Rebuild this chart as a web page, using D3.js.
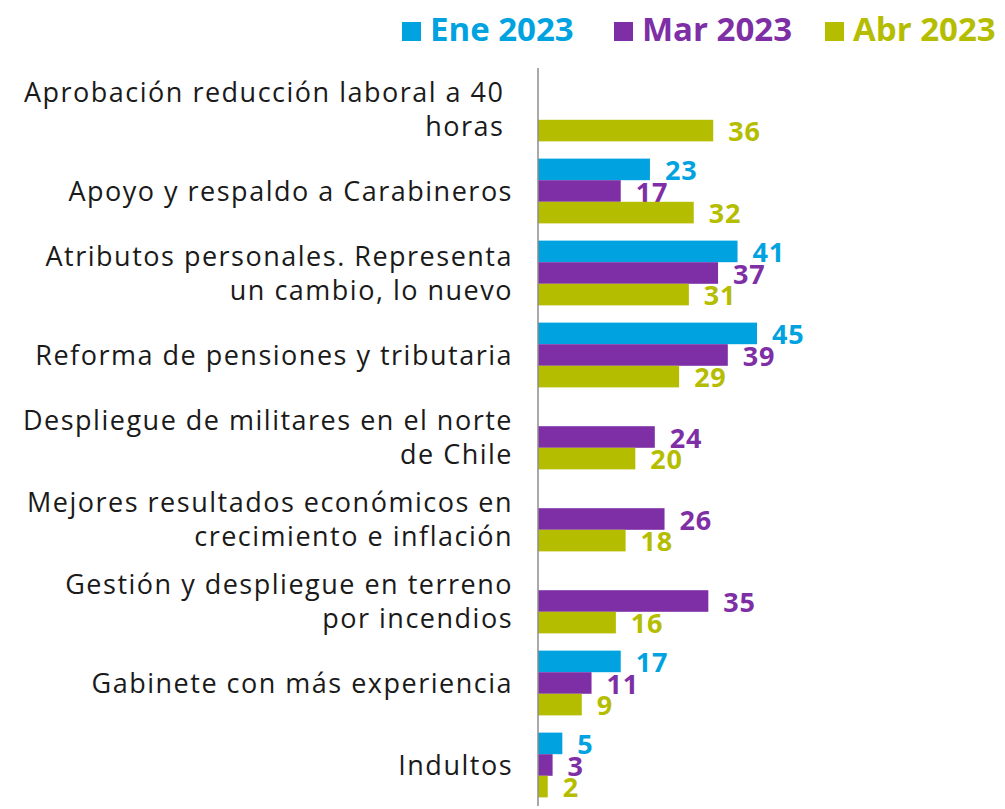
<!DOCTYPE html>
<html>
<head>
<meta charset="utf-8">
<script src="https://d3js.org/d3.v7.min.js"></script>
<style>
  body { margin: 0; background: #fff; }
  text { font-family: "Open Sans", sans-serif; }
</style>
</head>
<body>
<div id="chart"></div>
<script>
// data
var categories = [
  ["Aprobación reducción laboral a 40 ", "horas "],
  ["Apoyo y respaldo a Carabineros"],
  ["Atributos personales. Representa", "un cambio, lo nuevo"],
  ["Reforma de pensiones y tributaria"],
  ["Despliegue de militares en el norte", "de Chile"],
  ["Mejores resultados económicos en", "crecimiento e inflación"],
  ["Gestión y despliegue en terreno", "por incendios"],
  ["Gabinete con más experiencia"],
  ["Indultos"]
];
var seriesNames = ["Ene 2023", "Mar 2023", "Abr 2023"];
var ene = [null, 23, 41, 45, null, null, null, 17, 5];
var mar = [null, 17, 37, 39, 24, 26, 35, 11, 3];
var abr = [36, 32, 31, 29, 20, 18, 16, 9, 2];
var colors = ["#00A3E0", "#7E2FA6", "#B5BD00"];

var width = 1005, height = 809;
var svg = d3.select("#chart").append("svg")
    .attr("width", width)
    .attr("height", height);

var idx = d3.range(categories.length);
var y = d3.scaleBand().domain(idx).range([68, 806]).paddingInner(0.21).paddingOuter(0.105);
var ySub = d3.scaleBand().domain(seriesNames).range([0, y.bandwidth()]);
var x = d3.scaleLinear().domain([0, 45]).range([538, 757]);

var allSeries = [ene, mar, abr];

// bars + value labels
allSeries.forEach(function(vals, s) {
  var g = svg.append("g");
  var pts = idx.filter(function(i) { return vals[i] != null; });
  g.selectAll("rect").data(pts).enter().append("rect")
    .attr("x", x(0))
    .attr("y", function(i) { return y(i) + ySub(seriesNames[s]); })
    .attr("width", function(i) { return x(vals[i]) - x(0); })
    .attr("height", ySub.bandwidth())
    .attr("fill", colors[s]);
  g.selectAll("text").data(pts).enter().append("text")
    .attr("x", function(i) { return x(vals[i]) + 15; })
    .attr("y", function(i) { return y(i) + ySub(seriesNames[s]) + ySub.bandwidth(); })
    .attr("fill", colors[s])
    .attr("font-size", 27)
    .attr("font-weight", 700)
    .attr("letter-spacing", 0.8)
    .text(function(i) { return vals[i]; });
});

// axis line
svg.append("line")
  .attr("x1", x(0)).attr("x2", x(0))
  .attr("y1", 68).attr("y2", 806)
  .attr("stroke", "#8c8c8c").attr("stroke-width", 1.5);

// category labels
var lineH = 34;
idx.forEach(function(i) {
  var lines = categories[i];
  var cy = y(i) + y.bandwidth() / 2;
  var t = svg.append("text")
    .attr("text-anchor", "end")
    .attr("font-size", 27)
    .attr("letter-spacing", 1.5)
    .attr("fill", "#1a1a1a")
    .style("white-space", "pre");
  lines.forEach(function(l, k) {
    t.append("tspan")
      .attr("x", 513)
      .attr("y", cy + 10 + (k - (lines.length - 1) / 2) * lineH)
      .text(l);
  });
});

// legend
var legX = [402, 614, 825];
seriesNames.forEach(function(n, s) {
  svg.append("rect")
    .attr("x", legX[s]).attr("y", 22)
    .attr("width", 19).attr("height", 19)
    .attr("fill", colors[s]);
  svg.append("text")
    .attr("x", legX[s] + 28).attr("y", 41)
    .attr("font-size", 33).attr("font-weight", 700)
    .attr("fill", colors[s])
    .text(n);
});
</script>
</body>
</html>
